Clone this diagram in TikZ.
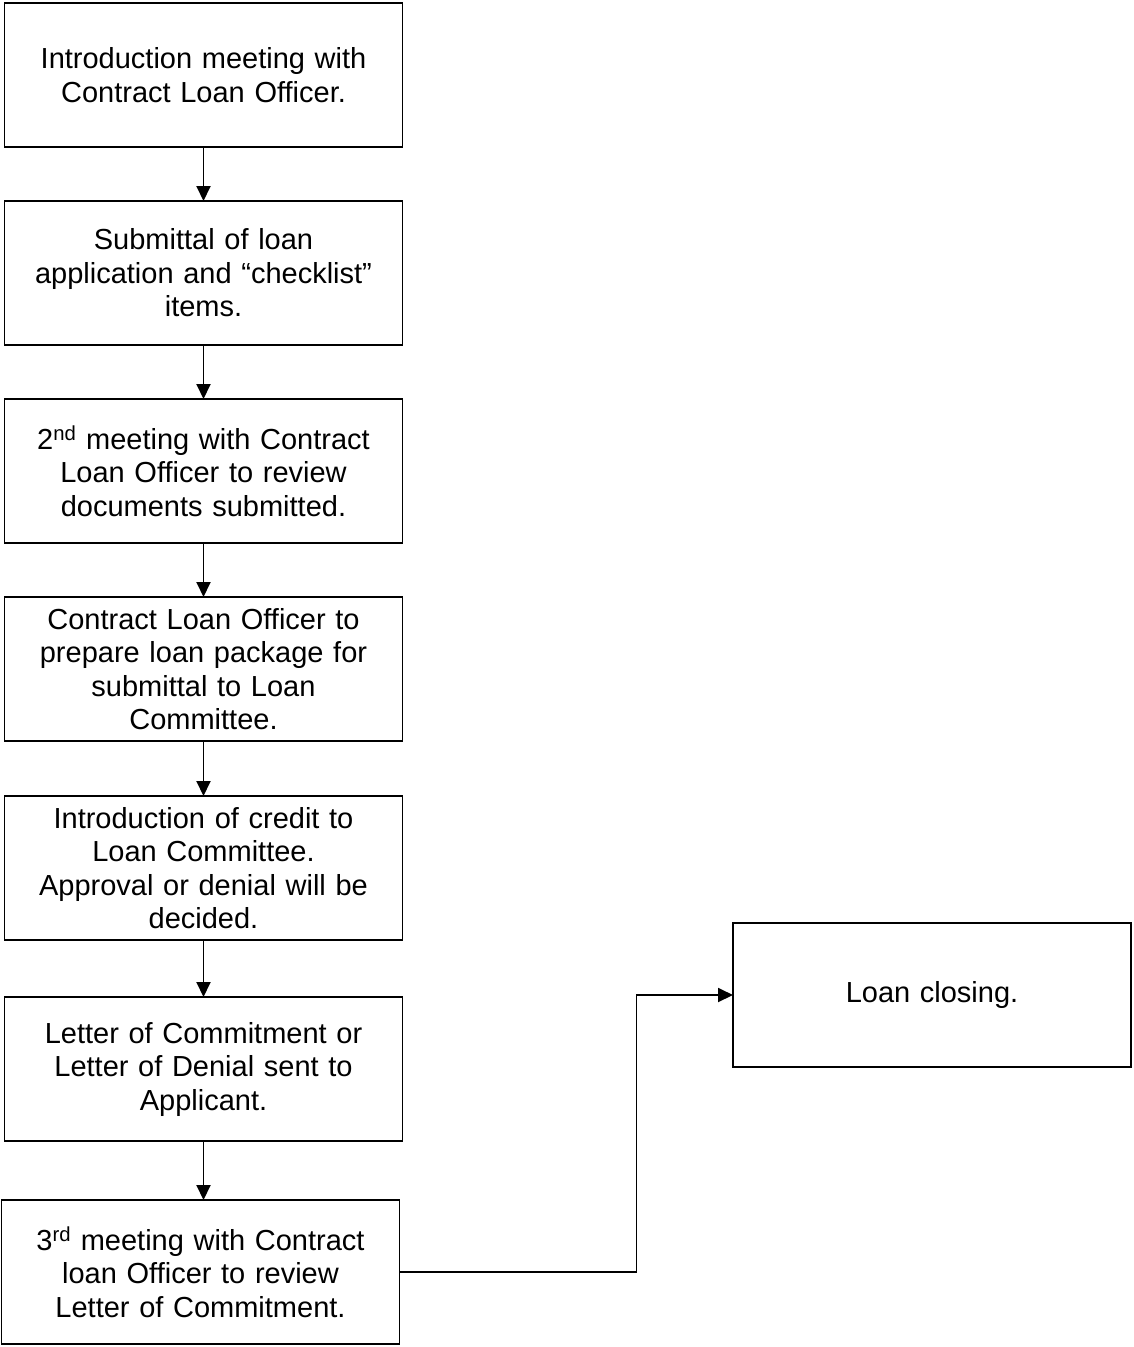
\documentclass[tikz,border=0pt]{standalone}
\usepackage{fontspec}
\setmainfont{Liberation Sans}
\usetikzlibrary{positioning}
\usetikzlibrary{arrows.meta}

\begin{document}
\begin{tikzpicture}[x=1pt, y=-1pt, node distance = 54pt,
        stepbox/.style={rectangle, draw=black, line width = 1.9pt, outer sep = 0pt, minimum width = 398pt, minimum height = 144pt, text width = 390pt, align = center, inner sep = 0pt, font = \fontsize{29}{33.5}\selectfont},
        flow/.style={-{Triangle[width=14pt, length=15pt]}, line width = 1.9pt}]
        \useasboundingbox (0,0) rectangle (1134,1347);
        \node[stepbox] (node1) at (203.5,75) {Introduction meeting with\\Contract Loan Officer.};
        \node[stepbox] (node2) [below=of node1] {Submittal of loan\\application and “checklist”\\items.};
        \node[stepbox] (node3) [below=of node2] {2\textsuperscript{nd} meeting with Contract\\Loan Officer to review\\documents submitted.};
        \node[stepbox] (node4) [below=of node3] {Contract Loan Officer to\\prepare loan package for\\submittal to Loan\\Committee.};
        \node[stepbox] (node5) [below=55pt of node4] {Introduction of credit to\\Loan Committee.\\Approval or denial will be\\decided.};
        \node[stepbox] (node6) [below=57pt of node5] {Letter of Commitment or\\Letter of Denial sent to\\Applicant.};
        \node[stepbox] (node7) [below=59pt of node6, xshift=-3pt] {3\textsuperscript{rd} meeting with Contract\\loan Officer to review\\Letter of Commitment.};
        \node[stepbox] (node8) at (932,995) {Loan closing.};

        \draw[flow] (node1) -- (node2);
        \draw[flow] (node2) -- (node3);
        \draw[flow] (node3) -- (node4);
        \draw[flow] (node4) -- (node5);
        \draw[flow] (node5) -- (node6);
        \draw[flow] (node6.south) -- (node6.south |- node7.north);
        \draw[flow] (node7.east) -- ++(237,0) |- (node8.west);
    \end{tikzpicture}
\end{document}
